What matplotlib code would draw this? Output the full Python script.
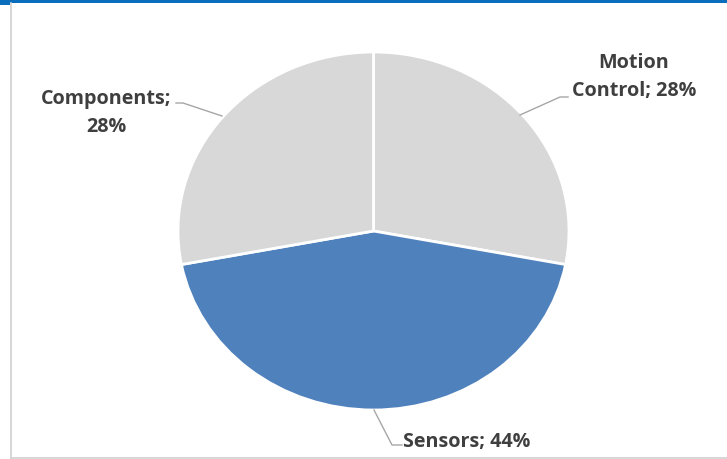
import matplotlib
matplotlib.use("Agg")
import matplotlib.pyplot as plt
from matplotlib.lines import Line2D
from matplotlib.patches import Rectangle

categories = ["Motion Control", "Sensors", "Components"]
shares = [28, 44, 28]
label_texts = ["Motion\nControl; 28%", "Sensors; 44%", "Components;\n28%"]
colors = ["#d8d8d8", "#4f81bd", "#d8d8d8"]

W, H = 727, 459
fig = plt.figure(figsize=(W / 100, H / 100), dpi=100)
fig.patch.set_facecolor("white")

# pie footprint in pixels (centre and horizontal / vertical radii)
cx, cy, rx, ry = 373.5, 231.0, 195.5, 179.0
ax = fig.add_axes([(cx - rx) / W, (H - cy - ry) / H, 2 * rx / W, 2 * ry / H])

ax.pie(shares, colors=colors, startangle=90, counterclock=False, radius=1.0,
       wedgeprops=dict(edgecolor="white", linewidth=2.0))
ax.set_xlim(-1, 1)
ax.set_ylim(-1, 1)
ax.set_aspect("auto")
ax.axis("off")


def px(x, y):
    return (x - cx) / rx, (cy - y) / ry


# leader lines
leaders = [
    [(520, 115), (560, 97), (568, 97)],
    [(374, 410), (392, 445), (402, 445)],
    [(222, 116), (183, 103), (176, 103)],
]
for pts in leaders:
    xs, ys = zip(*[px(*p) for p in pts])
    ax.add_line(Line2D(xs, ys, color="#a6a6a6", lw=1.0, clip_on=False))

font = dict(family=["Open Sans", "DejaVu Sans"], fontsize=14.2,
            fontweight="bold", color="#3f3f3f")
ax.text(*px(634, 77), label_texts[0], ha="center", va="center",
        linespacing=1.5, clip_on=False, **font)
ax.text(*px(403, 442), label_texts[1], ha="left", va="center",
        clip_on=False, **font)
ax.text(*px(106, 113), label_texts[2], ha="center", va="center",
        linespacing=1.5, clip_on=False, **font)

# frame: blue top rule, grey left / bottom borders
fig.add_artist(Rectangle((0, 1 - 3 / H), 1, 3 / H, transform=fig.transFigure,
                         color="#0a6ebd", lw=0))
fig.add_artist(Rectangle((0, 1 - 5 / H), 10 / W, 5 / H, transform=fig.transFigure,
                         color="#0a6ebd", lw=0))
fig.add_artist(Line2D([10.5 / W, 10.5 / W], [1 - 3 / H, 1 - 457.5 / H],
                      transform=fig.transFigure, color="#d0d0d0", lw=1.2))
fig.add_artist(Line2D([10.5 / W, 1], [1 - 457.5 / H, 1 - 457.5 / H],
                      transform=fig.transFigure, color="#d0d0d0", lw=1.2))

fig.savefig("out.png", dpi=100, facecolor="white")
